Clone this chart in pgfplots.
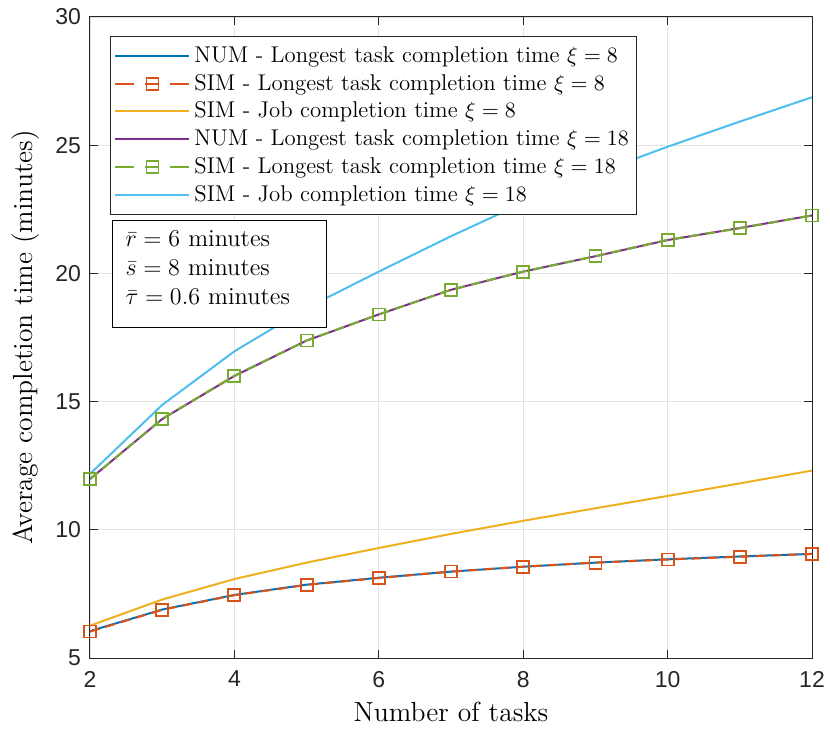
\documentclass[border=0pt]{standalone}
\usepackage{fontspec}
\usepackage{pgfplots}
\pgfplotsset{compat=1.18}
\newfontfamily\tickfont{Liberation Sans}

\definecolor{mblue}{rgb}{0,0.447,0.741}
\definecolor{morange}{rgb}{0.85,0.325,0.098}
\definecolor{myellow}{rgb}{0.929,0.694,0.125}
\definecolor{mpurple}{rgb}{0.494,0.184,0.556}
\definecolor{mgreen}{rgb}{0.466,0.674,0.188}
\definecolor{mcyan}{rgb}{0.301,0.745,0.933}
\definecolor{axgray}{rgb}{0.15,0.15,0.15}

\begin{document}
\begin{tikzpicture}
\begin{axis}[
    width=361pt, height=320.5pt,
    scale only axis,
    xmin=2, xmax=12, ymin=5, ymax=30,
    xtick={2,4,...,12}, ytick={5,10,...,30},
    grid=major,
    major grid style={gray!22, line width=0.4pt},
    axis line style={axgray, line width=0.5pt},
    tick style={axgray, line width=0.5pt},
    tick align=inside,
    major tick length=4pt,
    /pgf/number format/assume math mode=true,
    tick label style={font=\tickfont\fontsize{11.5}{13}\selectfont, text=axgray},
    xticklabel style={yshift=-3pt},
    yticklabel style={xshift=-1pt},
    label style={font=\fontsize{13.8}{16}\selectfont},
    xlabel={Number of tasks},
    ylabel={Average completion time (minutes)},
    xlabel style={at={(axis description cs:0.5,-0.0998)}, anchor=base},
    ylabel style={at={(axis description cs:-0.079,0.5)}, anchor=base},
    legend cell align=left,
    legend style={at={(0.0277,0.9704)}, anchor=north west,
        font=\fontsize{11.4}{14}\selectfont,
        draw=axgray, line width=0.5pt,
        inner xsep=2pt, inner ysep=4pt,
        nodes={inner xsep=2pt, inner ysep=1pt},
        row sep=2.4pt},
    legend image code/.code={%
        \draw[mark repeat=2, mark phase=2, #1]
        plot coordinates {(0pt,0pt) (18.5pt,0pt) (37pt,0pt)};},
    every axis plot/.append style={line width=1pt},
    simlegend/.style={legend image code/.code={%
        \draw[mark repeat=2, mark phase=2, ##1,
            dash pattern=on 9.5pt off 5.5pt on 7pt off 5.5pt]
        plot coordinates {(0pt,0pt) (18.5pt,0pt) (37pt,0pt)};}},
]
% NUM xi=8
\addplot[mblue, solid] coordinates {
(2,6.05) (3,6.89) (4,7.46) (5,7.86) (6,8.13) (7,8.37) (8,8.56) (9,8.72) (10,8.85) (11,8.96) (12,9.06)};
\addlegendentry{NUM - Longest task completion time $\xi = 8$\hspace{5pt}}
% SIM longest xi=8
\addplot[morange, dash pattern=on 5pt off 3pt, mark=square, mark size=3pt,
    mark options={solid, line width=0.9pt}, simlegend] coordinates {
(2,6.03) (3,6.88) (4,7.45) (5,7.85) (6,8.12) (7,8.37) (8,8.56) (9,8.72) (10,8.84) (11,8.95) (12,9.06)};
\addlegendentry{SIM - Longest task completion time $\xi = 8$\hspace{5pt}}
% SIM job xi=8
\addplot[myellow, solid] coordinates {
(2,6.26) (3,7.28) (4,8.08) (5,8.72) (6,9.29) (7,9.84) (8,10.35) (9,10.84) (10,11.32) (11,11.81) (12,12.31)};
\addlegendentry{SIM - Job completion time $\xi = 8$\hspace{5pt}}
% NUM xi=18
\addplot[mpurple, solid] coordinates {
(2,11.98) (3,14.32) (4,16.0) (5,17.38) (6,18.40) (7,19.36) (8,20.07) (9,20.67) (10,21.30) (11,21.77) (12,22.26)};
\addlegendentry{NUM - Longest task completion time $\xi = 18$\hspace{5pt}}
% SIM longest xi=18
\addplot[mgreen, dash pattern=on 5pt off 3pt, mark=square, mark size=3pt,
    mark options={solid, line width=0.9pt}, simlegend] coordinates {
(2,11.98) (3,14.33) (4,16.01) (5,17.38) (6,18.40) (7,19.36) (8,20.07) (9,20.67) (10,21.31) (11,21.76) (12,22.26)};
\addlegendentry{SIM - Longest task completion time $\xi = 18$\hspace{5pt}}
% SIM job xi=18
\addplot[mcyan, solid] coordinates {
(2,12.18) (3,14.87) (4,16.96) (5,18.65) (6,20.07) (7,21.45) (8,22.75) (9,23.9) (10,24.94) (11,25.92) (12,26.87)};
\addlegendentry{SIM - Job completion time $\xi = 18$\hspace{5pt}}

\node[draw=black, line width=0.5pt, fill=white, anchor=north west, align=left,
    text width=94pt, minimum width=107pt,
    inner xsep=6.5pt, inner ysep=5pt,
    font=\fontsize{12.2}{14.5}\selectfont]
    at (rel axis cs:0.0305,0.6833)
    {$\bar{r} = 6$ minutes\\ $\bar{s} = 8$ minutes\\ $\bar{\tau} = 0.6$ minutes\rule[-6.5pt]{0pt}{6.5pt}};
\end{axis}
\pgfresetboundingbox
\path[use as bounding box]
    ([shift={(-45pt,-35.5pt)}]current axis.south west)
    rectangle ([shift={(9pt,8.5pt)}]current axis.north east);
\end{tikzpicture}
\end{document}
